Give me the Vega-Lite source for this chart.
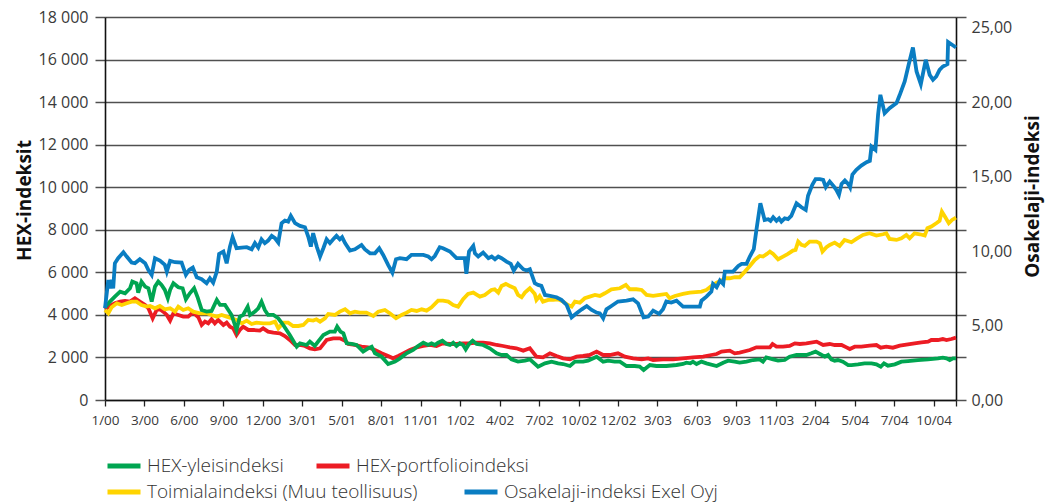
{
"$schema": "https://vega.github.io/schema/vega-lite/v6.json",
"width": 851,
"height": 383,
"autosize": {"type": "none"},
"padding": {"left": 105, "top": 17, "right": 99, "bottom": 104},
"background": "white",
"config": {"view": {"stroke": null}, "font": "Open Sans"},
"datasets": {
"yleis": [{"vk":0,"arvo":4350},{"vk":1.5,"arvo":4624},{"vk":3.0,"arvo":4859},{"vk":4.6,"arvo":5094},{"vk":6.1,"arvo":5016},{"vk":7.6,"arvo":5251},{"vk":8.3,"arvo":5564},{"vk":9.6,"arvo":5486},{"vk":10.1,"arvo":5047},{"vk":11.1,"arvo":5564},{"vk":12.2,"arvo":5329},{"vk":13.2,"arvo":5251},{"vk":14.2,"arvo":4624},{"vk":15.2,"arvo":5329},{"vk":16.2,"arvo":5564},{"vk":17.2,"arvo":5408},{"vk":18.2,"arvo":5172},{"vk":19.1,"arvo":4780},{"vk":19.8,"arvo":5172},{"vk":20.8,"arvo":5486},{"vk":22.3,"arvo":5298},{"vk":23.6,"arvo":5251},{"vk":24.6,"arvo":4733},{"vk":25.8,"arvo":5016},{"vk":27.1,"arvo":5251},{"vk":28.2,"arvo":4812},{"vk":29.4,"arvo":4232},{"vk":30.9,"arvo":4153},{"vk":32.4,"arvo":4185},{"vk":34.0,"arvo":4702},{"vk":35.0,"arvo":4467},{"vk":36.5,"arvo":4467},{"vk":37.5,"arvo":4232},{"vk":38.5,"arvo":3996},{"vk":40.0,"arvo":3291},{"vk":41.0,"arvo":3918},{"vk":42.0,"arvo":3996},{"vk":43.4,"arvo":4388},{"vk":44.1,"arvo":3996},{"vk":45.6,"arvo":4153},{"vk":46.6,"arvo":4310},{"vk":47.6,"arvo":4624},{"vk":48.6,"arvo":4232},{"vk":49.6,"arvo":3996},{"vk":51.2,"arvo":3996},{"vk":52.7,"arvo":3840},{"vk":54.2,"arvo":3526},{"vk":56.2,"arvo":3056},{"vk":58.3,"arvo":2507},{"vk":59.3,"arvo":2664},{"vk":61.3,"arvo":2585},{"vk":62.3,"arvo":2742},{"vk":63.8,"arvo":2538},{"vk":64.8,"arvo":2742},{"vk":66.4,"arvo":3056},{"vk":68.4,"arvo":3213},{"vk":69.9,"arvo":3213},{"vk":70.6,"arvo":3448},{"vk":71.6,"arvo":3213},{"vk":72.5,"arvo":3134},{"vk":73.5,"arvo":2664},{"vk":75.0,"arvo":2633},{"vk":76.5,"arvo":2586},{"vk":78.5,"arvo":2272},{"vk":80.0,"arvo":2429},{"vk":81.1,"arvo":2507},{"vk":82.1,"arvo":2194},{"vk":84.1,"arvo":2037},{"vk":86.1,"arvo":1692},{"vk":88.2,"arvo":1802},{"vk":89.7,"arvo":1958},{"vk":91.7,"arvo":2194},{"vk":93.7,"arvo":2350},{"vk":95.2,"arvo":2538},{"vk":96.8,"arvo":2695},{"vk":98.3,"arvo":2586},{"vk":99.3,"arvo":2664},{"vk":100.3,"arvo":2586},{"vk":101.3,"arvo":2695},{"vk":102.6,"arvo":2789},{"vk":103.9,"arvo":2633},{"vk":104.9,"arvo":2586},{"vk":105.9,"arvo":2695},{"vk":106.9,"arvo":2538},{"vk":107.9,"arvo":2664},{"vk":108.9,"arvo":2586},{"vk":109.7,"arvo":2382},{"vk":110.7,"arvo":2633},{"vk":111.8,"arvo":2789},{"vk":113.0,"arvo":2633},{"vk":115.0,"arvo":2586},{"vk":117.0,"arvo":2429},{"vk":119.1,"arvo":2194},{"vk":120.6,"arvo":2115},{"vk":122.1,"arvo":2115},{"vk":123.6,"arvo":1911},{"vk":125.6,"arvo":1802},{"vk":127.7,"arvo":1849},{"vk":129.2,"arvo":1911},{"vk":131.7,"arvo":1567},{"vk":133.8,"arvo":1723},{"vk":135.8,"arvo":1802},{"vk":137.8,"arvo":1723},{"vk":139.3,"arvo":1692},{"vk":141.4,"arvo":1598},{"vk":142.9,"arvo":1802},{"vk":145.4,"arvo":1802},{"vk":146.9,"arvo":1849},{"vk":149.5,"arvo":2037},{"vk":151.5,"arvo":1802},{"vk":153.0,"arvo":1849},{"vk":155.0,"arvo":1802},{"vk":156.6,"arvo":1802},{"vk":158.6,"arvo":1598},{"vk":161.1,"arvo":1598},{"vk":162.6,"arvo":1567},{"vk":163.8,"arvo":1410},{"vk":165.7,"arvo":1645},{"vk":167.7,"arvo":1598},{"vk":170.7,"arvo":1598},{"vk":173.8,"arvo":1645},{"vk":175.8,"arvo":1692},{"vk":176.8,"arvo":1754},{"vk":178.0,"arvo":1723},{"vk":178.8,"arvo":1802},{"vk":179.9,"arvo":1692},{"vk":181.4,"arvo":1802},{"vk":182.9,"arvo":1723},{"vk":186.0,"arvo":1598},{"vk":188.0,"arvo":1754},{"vk":189.5,"arvo":1849},{"vk":191.5,"arvo":1802},{"vk":193.0,"arvo":1754},{"vk":195.1,"arvo":1801},{"vk":197.1,"arvo":1879},{"vk":199.1,"arvo":1910},{"vk":200.1,"arvo":1801},{"vk":201.1,"arvo":2004},{"vk":203.2,"arvo":1910},{"vk":204.7,"arvo":1848},{"vk":206.7,"arvo":1879},{"vk":208.2,"arvo":2036},{"vk":210.3,"arvo":2114},{"vk":213.3,"arvo":2114},{"vk":214.8,"arvo":2193},{"vk":216.1,"arvo":2271},{"vk":217.4,"arvo":2161},{"vk":218.9,"arvo":2036},{"vk":219.9,"arvo":2114},{"vk":220.9,"arvo":1910},{"vk":221.9,"arvo":1848},{"vk":222.9,"arvo":1879},{"vk":224.4,"arvo":1801},{"vk":226.0,"arvo":1644},{"vk":227.0,"arvo":1643},{"vk":229.0,"arvo":1674},{"vk":231.0,"arvo":1721},{"vk":233.1,"arvo":1721},{"vk":234.6,"arvo":1674},{"vk":235.9,"arvo":1564},{"vk":236.9,"arvo":1721},{"vk":238.1,"arvo":1611},{"vk":240.2,"arvo":1674},{"vk":242.2,"arvo":1800},{"vk":244.2,"arvo":1831},{"vk":247.2,"arvo":1878},{"vk":250.3,"arvo":1909},{"vk":253.3,"arvo":1956},{"vk":254.8,"arvo":1988},{"vk":255.9,"arvo":1956},{"vk":256.9,"arvo":1878},{"vk":257.9,"arvo":1956},{"vk":258.8,"arvo":1956}],
"portfolio": [{"vk":0,"arvo":4263},{"vk":1.5,"arvo":4420},{"vk":3.0,"arvo":4545},{"vk":4.6,"arvo":4624},{"vk":6.1,"arvo":4655},{"vk":7.6,"arvo":4624},{"vk":9.1,"arvo":4780},{"vk":10.6,"arvo":4624},{"vk":12.2,"arvo":4467},{"vk":13.2,"arvo":4310},{"vk":14.5,"arvo":3840},{"vk":15.7,"arvo":4232},{"vk":16.7,"arvo":4263},{"vk":17.7,"arvo":4153},{"vk":18.8,"arvo":3996},{"vk":19.8,"arvo":3730},{"vk":20.8,"arvo":4075},{"vk":22.3,"arvo":3996},{"vk":23.8,"arvo":3918},{"vk":25.3,"arvo":3918},{"vk":26.8,"arvo":4122},{"vk":28.4,"arvo":3887},{"vk":29.4,"arvo":3526},{"vk":30.4,"arvo":3683},{"vk":31.4,"arvo":3604},{"vk":32.4,"arvo":3793},{"vk":33.4,"arvo":3604},{"vk":34.4,"arvo":3761},{"vk":36.0,"arvo":3526},{"vk":37.0,"arvo":3636},{"vk":38.0,"arvo":3448},{"vk":39.0,"arvo":3369},{"vk":40.0,"arvo":3056},{"vk":41.0,"arvo":3291},{"vk":42.0,"arvo":3448},{"vk":43.6,"arvo":3291},{"vk":45.1,"arvo":3291},{"vk":47.1,"arvo":3260},{"vk":48.1,"arvo":3369},{"vk":49.6,"arvo":3213},{"vk":51.2,"arvo":3166},{"vk":53.2,"arvo":3134},{"vk":54.7,"arvo":3009},{"vk":56.2,"arvo":2820},{"vk":57.8,"arvo":2585},{"vk":59.3,"arvo":2585},{"vk":60.8,"arvo":2538},{"vk":62.3,"arvo":2428},{"vk":63.8,"arvo":2382},{"vk":65.4,"arvo":2428},{"vk":67.4,"arvo":2821},{"vk":69.4,"arvo":2899},{"vk":71.4,"arvo":2899},{"vk":73.0,"arvo":2789},{"vk":74.0,"arvo":2633},{"vk":76.0,"arvo":2586},{"vk":78.0,"arvo":2507},{"vk":80.0,"arvo":2476},{"vk":82.1,"arvo":2351},{"vk":84.1,"arvo":2194},{"vk":86.1,"arvo":2068},{"vk":87.6,"arvo":1958},{"vk":89.2,"arvo":2068},{"vk":90.7,"arvo":2194},{"vk":92.7,"arvo":2351},{"vk":94.8,"arvo":2476},{"vk":96.8,"arvo":2538},{"vk":98.8,"arvo":2586},{"vk":100.8,"arvo":2538},{"vk":102.8,"arvo":2664},{"vk":104.9,"arvo":2633},{"vk":106.9,"arvo":2633},{"vk":108.9,"arvo":2664},{"vk":111.0,"arvo":2664},{"vk":113.0,"arvo":2695},{"vk":115.0,"arvo":2695},{"vk":117.0,"arvo":2664},{"vk":119.1,"arvo":2586},{"vk":121.1,"arvo":2538},{"vk":123.1,"arvo":2476},{"vk":125.1,"arvo":2429},{"vk":127.2,"arvo":2319},{"vk":129.2,"arvo":2429},{"vk":131.2,"arvo":2037},{"vk":133.2,"arvo":2005},{"vk":135.3,"arvo":2193},{"vk":137.3,"arvo":2068},{"vk":139.3,"arvo":1958},{"vk":141.4,"arvo":1911},{"vk":143.4,"arvo":2037},{"vk":145.4,"arvo":2068},{"vk":147.4,"arvo":2115},{"vk":149.5,"arvo":2272},{"vk":151.5,"arvo":2115},{"vk":153.5,"arvo":2115},{"vk":156.0,"arvo":2193},{"vk":158.1,"arvo":2037},{"vk":160.6,"arvo":1958},{"vk":163.2,"arvo":1911},{"vk":165.2,"arvo":1958},{"vk":166.7,"arvo":1880},{"vk":169.7,"arvo":1911},{"vk":172.8,"arvo":1911},{"vk":175.8,"arvo":1958},{"vk":178.8,"arvo":2005},{"vk":181.9,"arvo":2037},{"vk":184.4,"arvo":2115},{"vk":186.0,"arvo":2162},{"vk":187.5,"arvo":2272},{"vk":190.0,"arvo":2319},{"vk":191.5,"arvo":2193},{"vk":193.0,"arvo":2225},{"vk":196.1,"arvo":2350},{"vk":198.1,"arvo":2475},{"vk":200.1,"arvo":2475},{"vk":202.2,"arvo":2475},{"vk":203.0,"arvo":2632},{"vk":204.2,"arvo":2507},{"vk":206.2,"arvo":2507},{"vk":208.2,"arvo":2538},{"vk":209.8,"arvo":2663},{"vk":211.3,"arvo":2632},{"vk":213.3,"arvo":2663},{"vk":216.4,"arvo":2742},{"vk":218.4,"arvo":2585},{"vk":220.4,"arvo":2632},{"vk":221.9,"arvo":2585},{"vk":224.0,"arvo":2585},{"vk":225.5,"arvo":2475},{"vk":226.5,"arvo":2396},{"vk":228.0,"arvo":2505},{"vk":230.0,"arvo":2505},{"vk":232.5,"arvo":2552},{"vk":234.6,"arvo":2584},{"vk":235.9,"arvo":2458},{"vk":237.6,"arvo":2505},{"vk":239.6,"arvo":2458},{"vk":241.7,"arvo":2552},{"vk":244.2,"arvo":2615},{"vk":246.2,"arvo":2662},{"vk":248.3,"arvo":2709},{"vk":250.3,"arvo":2740},{"vk":251.3,"arvo":2819},{"vk":253.3,"arvo":2819},{"vk":254.8,"arvo":2866},{"vk":255.9,"arvo":2819},{"vk":257.4,"arvo":2866},{"vk":258.8,"arvo":2928}],
"toimiala": [{"vk":0,"arvo":4232},{"vk":1.0,"arvo":4075},{"vk":2.0,"arvo":4357},{"vk":3.6,"arvo":4545},{"vk":5.1,"arvo":4467},{"vk":6.6,"arvo":4545},{"vk":8.1,"arvo":4624},{"vk":9.6,"arvo":4624},{"vk":11.1,"arvo":4467},{"vk":12.7,"arvo":4388},{"vk":13.7,"arvo":4420},{"vk":15.2,"arvo":4310},{"vk":16.7,"arvo":4420},{"vk":18.2,"arvo":4263},{"vk":19.8,"arvo":4310},{"vk":21.3,"arvo":4153},{"vk":22.3,"arvo":4388},{"vk":23.8,"arvo":4232},{"vk":25.3,"arvo":4310},{"vk":26.8,"arvo":4153},{"vk":28.9,"arvo":4075},{"vk":30.9,"arvo":4075},{"vk":32.4,"arvo":3996},{"vk":34.0,"arvo":3918},{"vk":35.5,"arvo":3996},{"vk":37.0,"arvo":3918},{"vk":38.5,"arvo":3840},{"vk":40.0,"arvo":3761},{"vk":41.6,"arvo":3604},{"vk":43.1,"arvo":3730},{"vk":44.6,"arvo":3573},{"vk":46.1,"arvo":3636},{"vk":48.1,"arvo":3604},{"vk":50.2,"arvo":3604},{"vk":51.7,"arvo":3683},{"vk":52.7,"arvo":3369},{"vk":54.2,"arvo":3636},{"vk":55.7,"arvo":3636},{"vk":57.2,"arvo":3479},{"vk":58.8,"arvo":3479},{"vk":60.3,"arvo":3526},{"vk":61.8,"arvo":3761},{"vk":63.3,"arvo":3730},{"vk":64.3,"arvo":3793},{"vk":65.4,"arvo":3683},{"vk":66.9,"arvo":3840},{"vk":67.9,"arvo":4044},{"vk":69.9,"arvo":3997},{"vk":71.4,"arvo":4154},{"vk":73.0,"arvo":4263},{"vk":74.5,"arvo":4075},{"vk":76.0,"arvo":4154},{"vk":77.5,"arvo":4107},{"vk":79.5,"arvo":4107},{"vk":81.6,"arvo":3950},{"vk":83.1,"arvo":4154},{"vk":85.1,"arvo":4232},{"vk":86.6,"arvo":4075},{"vk":88.5,"arvo":3840},{"vk":90.2,"arvo":3997},{"vk":91.7,"arvo":4107},{"vk":93.2,"arvo":4232},{"vk":94.8,"arvo":4185},{"vk":96.3,"arvo":4263},{"vk":97.8,"arvo":4201},{"vk":99.3,"arvo":4357},{"vk":101.3,"arvo":4671},{"vk":102.8,"arvo":4671},{"vk":104.4,"arvo":4624},{"vk":105.9,"arvo":4467},{"vk":107.4,"arvo":4389},{"vk":108.9,"arvo":4734},{"vk":110.4,"arvo":4985},{"vk":112.0,"arvo":5047},{"vk":114.0,"arvo":4859},{"vk":115.5,"arvo":4938},{"vk":117.5,"arvo":5173},{"vk":118.5,"arvo":5204},{"vk":119.6,"arvo":5047},{"vk":120.6,"arvo":5361},{"vk":121.9,"arvo":5455},{"vk":123.1,"arvo":5361},{"vk":124.6,"arvo":5251},{"vk":125.6,"arvo":4938},{"vk":126.7,"arvo":4828},{"vk":127.7,"arvo":5047},{"vk":129.2,"arvo":5251},{"vk":130.7,"arvo":4985},{"vk":131.2,"arvo":4702},{"vk":132.2,"arvo":4890},{"vk":133.2,"arvo":4624},{"vk":134.8,"arvo":4702},{"vk":136.3,"arvo":4702},{"vk":137.8,"arvo":4734},{"vk":139.3,"arvo":4624},{"vk":140.8,"arvo":4467},{"vk":141.9,"arvo":4389},{"vk":142.9,"arvo":4624},{"vk":144.4,"arvo":4577},{"vk":145.9,"arvo":4781},{"vk":147.4,"arvo":4859},{"vk":149.0,"arvo":4938},{"vk":150.5,"arvo":4890},{"vk":152.0,"arvo":5016},{"vk":154.0,"arvo":5204},{"vk":156.6,"arvo":5251},{"vk":158.4,"arvo":5408},{"vk":159.6,"arvo":5204},{"vk":161.6,"arvo":5204},{"vk":163.2,"arvo":5173},{"vk":164.7,"arvo":4938},{"vk":166.7,"arvo":4890},{"vk":168.7,"arvo":4938},{"vk":170.7,"arvo":4985},{"vk":171.7,"arvo":4781},{"vk":173.3,"arvo":4890},{"vk":175.8,"arvo":4985},{"vk":177.8,"arvo":5047},{"vk":181.4,"arvo":5094},{"vk":182.9,"arvo":5173},{"vk":184.4,"arvo":5361},{"vk":186.0,"arvo":5518},{"vk":187.5,"arvo":5612},{"vk":188.5,"arvo":5722},{"vk":190.0,"arvo":5722},{"vk":191.5,"arvo":5769},{"vk":193.0,"arvo":5769},{"vk":194.6,"arvo":6034},{"vk":196.1,"arvo":6301},{"vk":197.6,"arvo":6583},{"vk":199.1,"arvo":6771},{"vk":200.1,"arvo":6740},{"vk":201.3,"arvo":6865},{"vk":202.2,"arvo":6975},{"vk":203.2,"arvo":6865},{"vk":204.7,"arvo":6614},{"vk":206.2,"arvo":6740},{"vk":207.7,"arvo":6865},{"vk":209.2,"arvo":7022},{"vk":210.0,"arvo":7053},{"vk":210.8,"arvo":7446},{"vk":211.8,"arvo":7289},{"vk":212.8,"arvo":7242},{"vk":214.3,"arvo":7446},{"vk":216.4,"arvo":7446},{"vk":217.4,"arvo":7367},{"vk":218.2,"arvo":6975},{"vk":219.4,"arvo":7179},{"vk":220.4,"arvo":7289},{"vk":221.9,"arvo":7398},{"vk":223.4,"arvo":7242},{"vk":224.9,"arvo":7523},{"vk":227.0,"arvo":7413},{"vk":228.5,"arvo":7570},{"vk":230.5,"arvo":7758},{"vk":232.5,"arvo":7836},{"vk":234.6,"arvo":7727},{"vk":236.6,"arvo":7789},{"vk":237.6,"arvo":7836},{"vk":238.6,"arvo":7570},{"vk":240.7,"arvo":7523},{"vk":242.2,"arvo":7601},{"vk":243.7,"arvo":7758},{"vk":244.7,"arvo":7601},{"vk":246.2,"arvo":7836},{"vk":247.8,"arvo":7789},{"vk":249.3,"arvo":7727},{"vk":250.1,"arvo":8072},{"vk":251.3,"arvo":8150},{"vk":252.8,"arvo":8307},{"vk":253.8,"arvo":8417},{"vk":254.5,"arvo":8856},{"vk":255.6,"arvo":8574},{"vk":256.6,"arvo":8307},{"vk":257.6,"arvo":8464},{"vk":258.8,"arvo":8574}],
"exel": [{"vk":0,"arvo":6.16},{"vk":1.0,"arvo":8.06},{"vk":1.5,"arvo":7.50},{"vk":2.0,"arvo":8.06},{"vk":2.5,"arvo":7.50},{"vk":3.0,"arvo":9.18},{"vk":4.0,"arvo":9.52},{"vk":5.6,"arvo":9.92},{"vk":6.6,"arvo":9.63},{"vk":8.1,"arvo":9.23},{"vk":9.1,"arvo":9.18},{"vk":10.6,"arvo":9.45},{"vk":12.2,"arvo":9.18},{"vk":13.2,"arvo":8.73},{"vk":14.2,"arvo":8.40},{"vk":15.2,"arvo":9.52},{"vk":16.7,"arvo":9.36},{"vk":18.2,"arvo":9.07},{"vk":18.8,"arvo":8.62},{"vk":19.8,"arvo":9.34},{"vk":21.3,"arvo":9.25},{"vk":23.3,"arvo":9.23},{"vk":24.6,"arvo":8.40},{"vk":25.6,"arvo":8.73},{"vk":26.7,"arvo":8.89},{"vk":27.9,"arvo":8.24},{"vk":29.4,"arvo":8.11},{"vk":30.9,"arvo":7.84},{"vk":31.9,"arvo":8.17},{"vk":32.9,"arvo":7.88},{"vk":34.0,"arvo":8.62},{"vk":34.7,"arvo":9.81},{"vk":36.0,"arvo":9.97},{"vk":37.0,"arvo":9.18},{"vk":38.0,"arvo":10.30},{"vk":38.8,"arvo":10.93},{"vk":40.0,"arvo":10.19},{"vk":41.6,"arvo":10.23},{"vk":43.1,"arvo":10.26},{"vk":44.6,"arvo":10.12},{"vk":45.6,"arvo":10.53},{"vk":46.6,"arvo":10.23},{"vk":47.6,"arvo":10.79},{"vk":48.6,"arvo":10.53},{"vk":49.6,"arvo":10.70},{"vk":50.7,"arvo":11.02},{"vk":51.7,"arvo":10.86},{"vk":52.7,"arvo":10.57},{"vk":53.7,"arvo":11.87},{"vk":54.7,"arvo":12.05},{"vk":55.7,"arvo":11.98},{"vk":56.5,"arvo":12.36},{"vk":57.8,"arvo":11.87},{"vk":59.3,"arvo":11.69},{"vk":60.8,"arvo":11.60},{"vk":61.8,"arvo":10.97},{"vk":62.6,"arvo":10.30},{"vk":63.3,"arvo":11.20},{"vk":64.4,"arvo":10.30},{"vk":65.4,"arvo":9.63},{"vk":66.4,"arvo":10.19},{"vk":67.4,"arvo":10.79},{"vk":68.4,"arvo":10.53},{"vk":69.4,"arvo":10.79},{"vk":70.4,"arvo":11.02},{"vk":71.4,"arvo":10.79},{"vk":72.1,"arvo":10.93},{"vk":73.0,"arvo":10.53},{"vk":74.5,"arvo":10.03},{"vk":76.0,"arvo":10.12},{"vk":78.0,"arvo":10.41},{"vk":79.0,"arvo":10.12},{"vk":80.6,"arvo":9.85},{"vk":82.1,"arvo":9.85},{"vk":83.4,"arvo":10.19},{"vk":84.6,"arvo":9.74},{"vk":86.1,"arvo":9.07},{"vk":87.4,"arvo":8.55},{"vk":88.5,"arvo":9.45},{"vk":89.7,"arvo":9.52},{"vk":91.7,"arvo":9.45},{"vk":93.2,"arvo":9.74},{"vk":94.8,"arvo":9.74},{"vk":96.8,"arvo":9.74},{"vk":98.3,"arvo":9.63},{"vk":99.3,"arvo":9.45},{"vk":100.3,"arvo":9.67},{"vk":101.8,"arvo":10.26},{"vk":102.8,"arvo":10.19},{"vk":104.9,"arvo":9.97},{"vk":106.9,"arvo":9.52},{"vk":109.4,"arvo":9.52},{"vk":109.9,"arvo":8.47},{"vk":110.7,"arvo":9.97},{"vk":112.0,"arvo":10.35},{"vk":112.5,"arvo":9.85},{"vk":113.5,"arvo":9.63},{"vk":115.0,"arvo":9.90},{"vk":116.6,"arvo":9.52},{"vk":117.6,"arvo":9.63},{"vk":118.6,"arvo":9.45},{"vk":119.6,"arvo":9.63},{"vk":120.6,"arvo":9.52},{"vk":122.1,"arvo":9.29},{"vk":123.4,"arvo":9.14},{"vk":124.3,"arvo":8.69},{"vk":125.6,"arvo":9.14},{"vk":127.2,"arvo":8.78},{"vk":128.2,"arvo":8.69},{"vk":129.2,"arvo":8.78},{"vk":130.7,"arvo":7.84},{"vk":131.7,"arvo":7.73},{"vk":132.7,"arvo":7.66},{"vk":133.8,"arvo":7.05},{"vk":135.3,"arvo":6.99},{"vk":137.3,"arvo":6.90},{"vk":138.8,"arvo":6.72},{"vk":140.4,"arvo":6.38},{"vk":141.9,"arvo":5.55},{"vk":143.4,"arvo":5.82},{"vk":145.0,"arvo":6.09},{"vk":146.5,"arvo":6.31},{"vk":148.0,"arvo":6.05},{"vk":149.5,"arvo":5.87},{"vk":150.5,"arvo":5.82},{"vk":151.5,"arvo":5.49},{"vk":152.5,"arvo":6.09},{"vk":154.0,"arvo":6.31},{"vk":156.0,"arvo":6.61},{"vk":158.6,"arvo":6.67},{"vk":160.6,"arvo":6.76},{"vk":162.1,"arvo":6.49},{"vk":163.8,"arvo":5.55},{"vk":165.2,"arvo":5.60},{"vk":166.7,"arvo":6.00},{"vk":168.5,"arvo":5.78},{"vk":169.7,"arvo":6.09},{"vk":170.7,"arvo":6.61},{"vk":172.2,"arvo":6.54},{"vk":173.8,"arvo":6.67},{"vk":175.8,"arvo":6.27},{"vk":177.8,"arvo":6.27},{"vk":180.9,"arvo":6.27},{"vk":181.4,"arvo":6.67},{"vk":182.9,"arvo":6.94},{"vk":184.4,"arvo":7.28},{"vk":184.9,"arvo":7.79},{"vk":186.0,"arvo":7.57},{"vk":187.0,"arvo":8.02},{"vk":188.0,"arvo":7.79},{"vk":188.5,"arvo":8.62},{"vk":190.0,"arvo":8.62},{"vk":191.0,"arvo":8.62},{"vk":192.6,"arvo":9.00},{"vk":193.6,"arvo":9.14},{"vk":195.1,"arvo":9.14},{"vk":196.1,"arvo":9.63},{"vk":197.3,"arvo":10.12},{"vk":198.1,"arvo":11.42},{"vk":199.3,"arvo":13.21},{"vk":200.6,"arvo":12.09},{"vk":201.7,"arvo":12.14},{"vk":202.4,"arvo":12.03},{"vk":203.2,"arvo":12.27},{"vk":204.2,"arvo":12.03},{"vk":205.0,"arvo":12.20},{"vk":205.7,"arvo":11.98},{"vk":206.7,"arvo":12.20},{"vk":207.7,"arvo":12.14},{"vk":208.7,"arvo":12.36},{"vk":210.3,"arvo":13.21},{"vk":211.8,"arvo":12.94},{"vk":213.1,"arvo":12.76},{"vk":213.8,"arvo":13.71},{"vk":215.1,"arvo":14.44},{"vk":216.1,"arvo":14.83},{"vk":217.4,"arvo":14.83},{"vk":218.4,"arvo":14.78},{"vk":219.2,"arvo":14.29},{"vk":220.4,"arvo":14.67},{"vk":221.7,"arvo":14.33},{"vk":222.4,"arvo":14.11},{"vk":223.2,"arvo":13.77},{"vk":224.0,"arvo":14.51},{"vk":225.0,"arvo":14.74},{"vk":226.0,"arvo":14.51},{"vk":226.6,"arvo":14.27},{"vk":227.3,"arvo":15.14},{"vk":228.5,"arvo":15.45},{"vk":230.0,"arvo":15.74},{"vk":231.6,"arvo":15.97},{"vk":232.6,"arvo":16.06},{"vk":233.1,"arvo":17.02},{"vk":234.3,"arvo":16.79},{"vk":235.1,"arvo":19.15},{"vk":235.8,"arvo":20.49},{"vk":237.1,"arvo":19.26},{"vk":238.6,"arvo":19.59},{"vk":240.7,"arvo":19.93},{"vk":241.7,"arvo":20.49},{"vk":243.2,"arvo":21.39},{"vk":244.4,"arvo":22.51},{"vk":245.7,"arvo":23.67},{"vk":246.8,"arvo":22.06},{"vk":248.1,"arvo":21.21},{"vk":249.6,"arvo":22.84},{"vk":250.8,"arvo":21.83},{"vk":251.8,"arvo":21.50},{"vk":252.8,"arvo":21.72},{"vk":253.8,"arvo":22.17},{"vk":254.8,"arvo":22.39},{"vk":256.2,"arvo":22.55},{"vk":256.4,"arvo":24.03},{"vk":257.6,"arvo":23.85},{"vk":258.8,"arvo":23.67}]
},
"layer": [
{
"layer": [
{
"data": {"name": "portfolio"},
"mark": {"type": "line", "strokeWidth": 3.8},
"encoding": {
"x": {"field": "vk", "type": "quantitative", "title": null,
"scale": {"domain": [0, 258.8], "nice": false, "zero": false},
"axis": {"values": [0,12,24,36,48,60,72,84,96,108,120,132,144,156,168,180,192,204,216,228,240,252,258.8],
"tickCount": 60,
"labelExpr": "datum.value > 253 ? '' : ['1/00','3/00','6/00','9/00','12/00','3/01','5/01','8/01','11/01','1/02','4/02','7/02','10/02','12/02','3/03','6/03','9/03','11/03','2/04','5/04','7/04','10/04'][round(datum.value/12)]",
"grid": false, "tickSize": 6, "tickColor": "#222", "tickWidth": 1.3, "domainColor": "#111", "domainWidth": 1.6,
"labelFontSize": 13.5, "labelColor": "#3a3a3a", "labelPadding": 7, "labelOverlap": false, "labelFlush": false, "labelFont": "Open Sans"}},
"y": {"field": "arvo", "type": "quantitative",
"scale": {"domain": [0, 18000], "nice": false},
"axis": {"values": [0,2000,4000,6000,8000,10000,12000,14000,16000,18000],
"tickCount": 60,
"labelExpr": "replace(format(datum.value, ','), ',', ' ')",
"grid": true, "gridColor": "#505050", "gridWidth": 1.5,
"tickSize": 10, "tickColor": "#505050", "tickWidth": 1.5,
"domainColor": "#111", "domainWidth": 1.6,
"labelFontSize": 16, "labelColor": "#3a3a3a", "labelPadding": 7, "labelFont": "Open Sans",
"title": "HEX-indeksit", "titleFontSize": 19, "titleFontWeight": "bold", "titleColor": "#111", "titleFont": "Open Sans",
"titleAngle": 270, "titleX": -81, "titleY": 183, "titleAlign": "center", "titleBaseline": "middle"}},
"stroke": {"datum": "HEX-portfolioindeksi", "type": "nominal",
"scale": {"domain": ["HEX-yleisindeksi", "HEX-portfolioindeksi"], "range": ["#00a551", "#ec1c24"]},
"legend": {"orient": "none", "legendX": 0, "legendY": 430, "direction": "horizontal",
"symbolType": "stroke", "symbolStrokeWidth": 5, "symbolSize": 1089, "labelFontSize": 19, "labelFont": "Open Sans",
"labelFontWeight": 300, "labelColor": "#333", "labelOffset": 4, "columnPadding": 22, "title": null,
"labelLimit": 500, "padding": 0}}
}
},
{
"data": {"name": "toimiala"},
"mark": {"type": "line", "strokeWidth": 3.8},
"encoding": {
"x": {"field": "vk", "type": "quantitative"},
"y": {"field": "arvo", "type": "quantitative"},
"color": {"datum": "Toimialaindeksi (Muu teollisuus)", "type": "nominal",
"scale": {"domain": ["Toimialaindeksi (Muu teollisuus)", "Osakelaji-indeksi Exel Oyj"], "range": ["#ffd400", "#0a7dc2"]},
"legend": {"orient": "none", "legendX": 0, "legendY": 456, "direction": "horizontal",
"symbolType": "stroke", "symbolStrokeWidth": 5, "symbolSize": 1089, "labelFontSize": 19, "labelFont": "Open Sans",
"labelFontWeight": 300, "labelColor": "#333", "labelOffset": 4, "columnPadding": 36, "title": null,
"labelLimit": 500, "padding": 0}}
}
},
{
"data": {"name": "yleis"},
"mark": {"type": "line", "strokeWidth": 3.8},
"encoding": {
"x": {"field": "vk", "type": "quantitative"},
"y": {"field": "arvo", "type": "quantitative"},
"stroke": {"datum": "HEX-yleisindeksi", "type": "nominal"}
}
}
]
},
{
"data": {"name": "exel"},
"mark": {"type": "line", "strokeWidth": 3.8},
"encoding": {
"x": {"field": "vk", "type": "quantitative"},
"y": {"field": "arvo", "type": "quantitative",
"scale": {"domain": [0, 25.7142857], "nice": false},
"axis": {"orient": "right",
"values": [0, 2.857142857, 5, 5.714285714, 8.571428571, 10, 11.428571429, 14.285714286, 15, 17.142857143, 20, 22.857142857, 25, 25.7142857],
"tickCount": 60,
"labelExpr": "indexof([0,5,10,15,20,25], datum.value) >= 0 ? replace(format(datum.value, '.2f'), '.', ',') : ''",
"tickOpacity": {"condition": {"test": "indexof([5,10,15,25], datum.value) >= 0", "value": 0}, "value": 1},
"grid": false, "tickSize": 10, "tickColor": "#505050", "tickWidth": 1.5,
"domainColor": "#111", "domainWidth": 1.6,
"labelFontSize": 16, "labelColor": "#3a3a3a", "labelPadding": 5, "labelOverlap": false, "labelFont": "Open Sans",
"title": "Osakelaji-indeksi", "titleFontSize": 19, "titleFontWeight": "bold", "titleColor": "#111", "titleFont": "Open Sans",
"titleAngle": 270, "titleX": 76, "titleY": 179, "titleAlign": "center", "titleBaseline": "middle"}},
"color": {"datum": "Osakelaji-indeksi Exel Oyj", "type": "nominal"}
}
}
],
"resolve": {"scale": {"y": "independent"}}
}
